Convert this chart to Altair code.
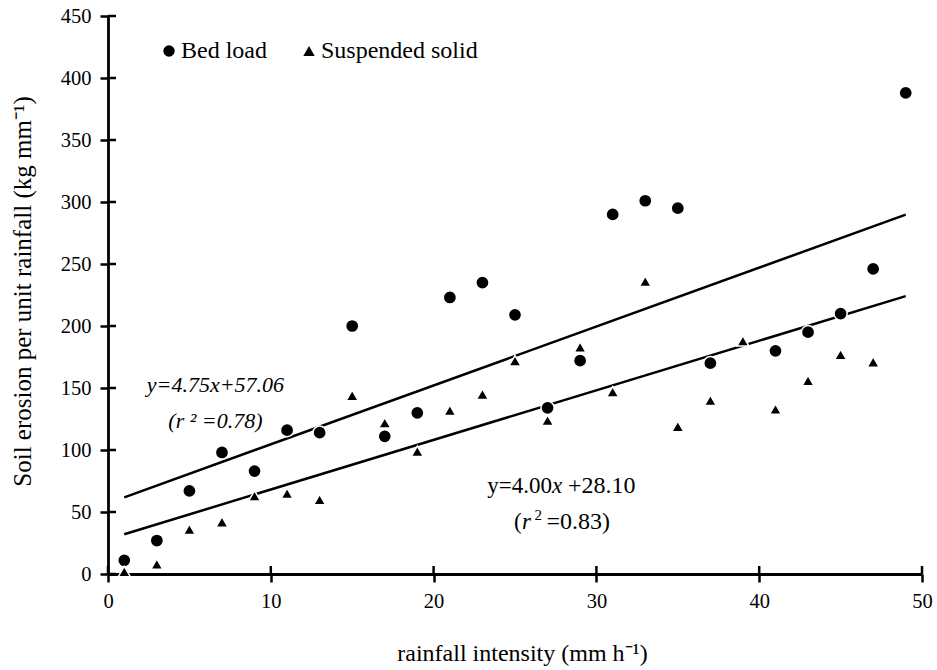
import altair as alt
import pandas as pd

# ---- data ----
series_names = ["Bed load", "Suspended solid"]

bed_x = [1, 3, 5, 7, 9, 11, 13, 15, 17, 19, 21, 23, 25, 27, 29, 31, 33, 35, 37, 41, 43, 45, 47, 49]
bed_y = [11, 27, 67, 98, 83, 116, 114, 200, 111, 130, 223, 235, 209, 134, 172, 290, 301, 295, 170, 180, 195, 210, 246, 388]

sus_x = [1, 3, 5, 7, 9, 11, 13, 15, 17, 19, 21, 23, 25, 27, 29, 31, 33, 35, 37, 39, 41, 43, 45, 47]
sus_y = [2, 8, 36, 42, 63, 65, 60, 144, 122, 99, 132, 145, 172, 124, 183, 147, 236, 119, 140, 188, 133, 156, 177, 171]

# regression lines as printed on the chart
fit_slope = [4.75, 4.00]
fit_intercept = [57.06, 28.10]
fit_range = [1, 49]

x_ticks = [0, 10, 20, 30, 40, 50]
y_ticks = [0, 50, 100, 150, 200, 250, 300, 350, 400, 450]

FONT = "Liberation Serif"
X_TITLE = "rainfall intensity (mm h⁻¹)"
Y_TITLE = "Soil erosion per unit rainfall (kg mm⁻¹)"

# ---- tables ----
bed = pd.DataFrame({"x": bed_x, "y": bed_y, "series": series_names[0]})
sus = pd.DataFrame({"x": sus_x, "y": sus_y, "series": series_names[1]})

line_rows = []
for name, m, b in zip(series_names, fit_slope, fit_intercept):
    for xv in fit_range:
        line_rows.append({"x": xv, "y": m * xv + b, "series": name})
lines = pd.DataFrame(line_rows)

xscale = alt.Scale(domain=[0, 50], nice=False, zero=False)
yscale = alt.Scale(domain=[0, 450], nice=False)

x_axis = alt.Axis(
    values=x_ticks, grid=False, tickSize=8, tickWidth=2.5, tickColor="black",
    domainWidth=2.8, domainColor="black", labelFont=FONT, labelFontSize=20.5,
    labelColor="black", labelPadding=9, labelFlush=False, title=X_TITLE,
    titleFont=FONT, titleFontSize=24, titleFontWeight="normal", titleColor="black",
    titlePadding=30, titleX=414,
)
y_axis = alt.Axis(
    values=y_ticks, grid=False, tickSize=8, tickWidth=2.5, tickColor="black",
    domainWidth=2.8, domainColor="black", labelFont=FONT, labelFontSize=20.5,
    labelColor="black", labelPadding=9, labelFlush=False, title=Y_TITLE,
    titleFont=FONT, titleFontSize=25, titleFontWeight="normal", titleColor="black",
    titlePadding=25, titleY=275,
)


def X(field="x"):
    return alt.X(f"{field}:Q", scale=xscale, axis=x_axis, title=X_TITLE)


def Y(field="y"):
    return alt.Y(f"{field}:Q", scale=yscale, axis=y_axis, title=Y_TITLE)


shape_scale = alt.Scale(domain=series_names, range=["circle", "triangle-up"])
legend = alt.Legend(
    title=None, orient="none", legendX=49, legendY=23, direction="horizontal",
    labelFont=FONT, labelFontSize=24, labelColor="black", labelOffset=0,
    symbolSize=130, symbolFillColor="black", symbolStrokeColor="white",
    symbolStrokeWidth=0, columnPadding=30, padding=0,
)

fit_lines = alt.Chart(lines).mark_line(color="black", strokeWidth=2.5).encode(
    x=X(), y=Y(), detail="series:N",
)


def point_layer(df, size):
    return alt.Chart(df).mark_point(filled=True, opacity=1, size=size).encode(
        x=X(), y=Y(),
        shape=alt.Shape("series:N", scale=shape_scale, legend=legend),
        fill=alt.value("black"),
        stroke=alt.value("white"),
        strokeWidth=alt.value(1.5),
    )


bed_pts = point_layer(bed, 175)
sus_pts = point_layer(sus, 145)

# inner halves of the crossing tick marks
y_inner = alt.Chart(pd.DataFrame({"y": y_ticks})).mark_rule(color="black", strokeWidth=2.5).encode(
    y=Y(), x=alt.value(0), x2=alt.value(8)
)
x_inner = alt.Chart(pd.DataFrame({"x": x_ticks})).mark_rule(color="black", strokeWidth=2.5).encode(
    x=X(), y=alt.value(558), y2=alt.value(550)
)

# annotations
ann1 = pd.DataFrame({
    "x": [6.6, 6.6],
    "y": [146.8, 117.7],
    "t": ["y=4.75x+57.06", "(r ² =0.78)"],
})
ann1_text = alt.Chart(ann1).mark_text(
    font=FONT, fontSize=22, fontStyle="italic", align="center", baseline="alphabetic", color="black"
).encode(x=X(), y=Y(), text="t:N")

ann2_anchor_x = 27.58
ann2_y = 65.3
r2_anchor_x = 25.71
r2_y = 36.3


def seg(xv, yv, txt, align, dx, style, size=23, dy=0):
    d = pd.DataFrame({"x": [xv], "y": [yv], "t": [txt]})
    return alt.Chart(d).mark_text(
        font=FONT, fontSize=size, fontStyle=style, align=align, dx=dx, dy=dy,
        baseline="alphabetic", color="black"
    ).encode(x=X(), y=Y(), text="t:N")


ann2 = [
    seg(ann2_anchor_x, ann2_y, "y=4.00", "right", -5, "normal"),
    seg(ann2_anchor_x, ann2_y, "x", "center", 0, "italic"),
    seg(ann2_anchor_x, ann2_y, "+28.10", "left", 11, "normal", size=24),
    seg(r2_anchor_x, r2_y, "(", "right", -5, "normal"),
    seg(r2_anchor_x, r2_y, "r", "center", 0, "italic"),
    seg(r2_anchor_x, r2_y, "2", "left", 8, "normal", size=15, dy=-9),
    seg(r2_anchor_x, r2_y, "=0.83)", "left", 20, "normal", size=24),
]

chart = alt.layer(fit_lines, bed_pts, sus_pts, y_inner, x_inner, ann1_text, *ann2).properties(
    width=814, height=558,
    autosize=alt.AutoSizeParams(type="none"),
    padding={"left": 108, "top": 16, "right": 15, "bottom": 96},
    background="white",
).configure_view(stroke=None)

chart.save("out.html", embed_options={"renderer": "svg", "actions": False})
